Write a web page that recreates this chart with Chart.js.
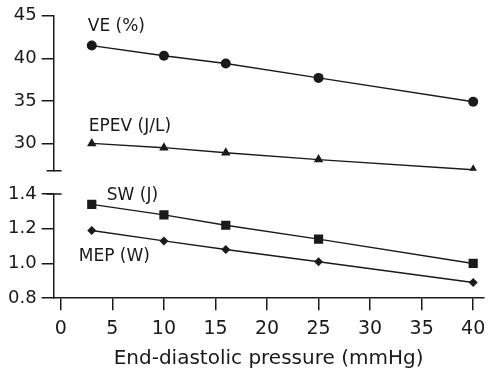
<!DOCTYPE html>
<html>
<head>
<meta charset="utf-8">
<script src="https://cdn.jsdelivr.net/npm/chart.js@4.4.1/dist/chart.umd.min.js"></script>
<style>
  html, body { margin: 0; padding: 0; background: #fff; }
  #wrap { width: 490px; height: 376px; }
</style>
</head>
<body>
<div id="wrap"><canvas id="c"></canvas></div>
<script>
// datos
const presion = [3, 10, 16, 25, 40];
const ve = [41.5, 40.3, 39.4, 37.7, 34.9];
const epev = [30.0, 29.5, 28.9, 28.1, 26.9];
const sw = [1.34, 1.28, 1.22, 1.14, 1.00];
const mep = [1.19, 1.13, 1.08, 1.01, 0.89];
const etiquetas = ['VE (%)', 'EPEV (J/L)', 'SW (J)', 'MEP (W)'];

// marcas de los ejes
const xTicks = [0, 5, 10, 15, 20, 25, 30, 35, 40];
const yTopTicks = [30, 35, 40, 45];
const yBotTicks = [0.8, 1.0, 1.2, 1.4];

const INK = '#1a1a1a';
const FONT = 'DejaVu Sans';

function serie(label, vals, eje, estilo, radio) {
    return {
        label: label,
        data: presion.map((x, i) => ({ x: x, y: vals[i] })),
        yAxisID: eje,
        borderColor: INK,
        backgroundColor: INK,
        borderWidth: 1.4,
        pointStyle: estilo,
        pointRadius: radio,
        pointHoverRadius: radio,
        pointBorderWidth: 0,
        tension: 0
    };
}

// etiquetas de cada serie, colocadas respecto al primer punto
const offsets = [[-4, -19], [-3, -17], [15, -9], [-13, 26]];
const seriesText = {
    id: 'seriesText',
    afterDatasetsDraw(chart) {
        const ctx = chart.ctx;
        ctx.save();
        ctx.font = '17px "' + FONT + '"';
        ctx.fillStyle = INK;
        ctx.textAlign = 'left';
        ctx.textBaseline = 'middle';
        chart.data.datasets.forEach((ds, i) => {
            const pt = chart.getDatasetMeta(i).data[0];
            ctx.fillText(etiquetas[i], pt.x + offsets[i][0], pt.y + offsets[i][1]);
        });
        ctx.restore();
    }
};

// remates horizontales del eje cortado
const axisBreak = {
    id: 'axisBreak',
    afterDraw(chart) {
        const ctx = chart.ctx;
        const top = chart.scales.yTop, bot = chart.scales.yBot;
        const x = top.right;
        ctx.save();
        ctx.strokeStyle = INK;
        ctx.lineWidth = 1.5;
        ctx.beginPath();
        ctx.moveTo(x - 7, top.bottom); ctx.lineTo(x + 8, top.bottom);
        ctx.moveTo(x - 7, bot.top); ctx.lineTo(x + 8, bot.top);
        ctx.stroke();
        ctx.restore();
    }
};

const fijarTicks = lista => s => { s.ticks = lista.map(v => ({ value: v })); };

const yTicks = dec => ({
    autoSkip: false,
    color: INK,
    padding: 5,
    font: { family: FONT, size: 18 },
    callback: v => v.toFixed(dec)
});

new Chart(document.getElementById('c'), {
    type: 'line',
    data: {
        datasets: [
            serie('VE (%)', ve, 'yTop', 'circle', 5),
            serie('EPEV (J/L)', epev, 'yTop', 'triangle', 5.5),
            serie('SW (J)', sw, 'yBot', 'rect', 6.5),
            serie('MEP (W)', mep, 'yBot', 'rectRot', 4.5)
        ]
    },
    options: {
        responsive: true,
        maintainAspectRatio: false,
        animation: false,
        layout: { padding: { left: 3, top: 5, right: 5, bottom: 10 } },
        plugins: { legend: { display: false }, tooltip: { enabled: false } },
        scales: {
            x: {
                type: 'linear',
                min: -0.7,
                max: 41,
                afterBuildTicks: fijarTicks(xTicks),
                afterFit: s => { s.paddingLeft = 0; s.paddingRight = 0; },
                border: { color: INK, width: 1.5 },
                grid: { drawOnChartArea: false, color: INK, lineWidth: 1.5, tickLength: 12 },
                ticks: { autoSkip: false, color: INK, padding: 7, maxRotation: 0,
                    font: { family: FONT, size: 19 } },
                title: { display: true, text: 'End-diastolic pressure (mmHg)', color: INK,
                    font: { family: FONT, size: 20, lineHeight: 0.7 },
                    padding: { top: 5, bottom: 0 } }
            },
            yBot: {
                type: 'linear',
                position: 'left',
                stack: 'y',
                stackWeight: 105,
                min: 0.8,
                max: 1.4,
                afterBuildTicks: fijarTicks(yBotTicks),
                border: { color: INK, width: 1.5 },
                grid: { drawOnChartArea: false, color: INK, lineWidth: 1.5, tickLength: 12 },
                ticks: yTicks(1)
            },
            yGap: {
                type: 'linear',
                position: 'left',
                stack: 'y',
                stackWeight: 23.5,
                border: { display: false },
                grid: { display: false },
                ticks: { display: false }
            },
            yTop: {
                type: 'linear',
                position: 'left',
                stack: 'y',
                stackWeight: 156,
                min: 26.8,
                max: 45,
                afterBuildTicks: fijarTicks(yTopTicks),
                border: { color: INK, width: 1.5 },
                grid: { drawOnChartArea: false, color: INK, lineWidth: 1.5, tickLength: 12 },
                ticks: yTicks(0)
            }
        }
    },
    plugins: [seriesText, axisBreak]
});
</script>
</body>
</html>
